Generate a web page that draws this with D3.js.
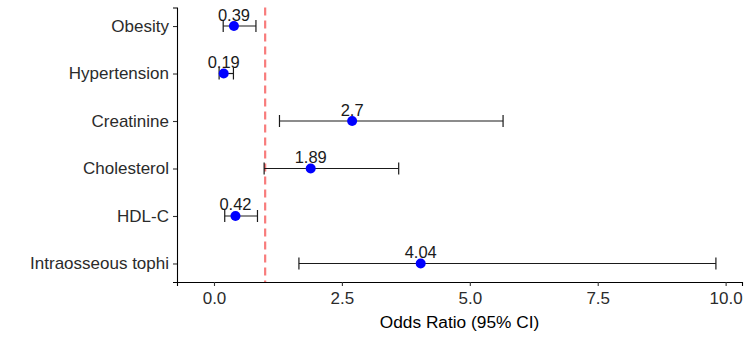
<!DOCTYPE html>
<html>
<head>
<meta charset="utf-8">
<script src="https://cdn.jsdelivr.net/npm/d3@7"></script>
<style>
  html, body { margin: 0; padding: 0; background: #fff; }
  svg { display: block; font-family: "Liberation Sans", Arial, sans-serif; }
</style>
</head>
<body>
<svg id="chart" width="750" height="337"></svg>
<script>
const categories = ["Obesity", "Hypertension", "Creatinine", "Cholesterol", "HDL-C", "Intraosseous tophi"];
const oddsRatio = [0.39, 0.19, 2.7, 1.89, 0.42, 4.04];
const lowerCI = [0.18, 0.10, 1.28, 0.98, 0.21, 1.66];
const upperCI = [0.82, 0.38, 5.65, 3.61, 0.85, 9.81];
const oddsLabels = ["0.39", "0.19", "2.7", "1.89", "0.42", "4.04"];
const xTicks = [0, 2.5, 5, 7.5, 10];
const xTickLabels = ["0.0", "2.5", "5.0", "7.5", "10.0"];
const referenceValue = [1];
const xTitle = "Odds Ratio (95% CI)";

(function () {
const rows = categories.map((c, i) => ({
  cat: c, or: oddsRatio[i], lo: lowerCI[i], hi: upperCI[i], label: oddsLabels[i]
}));

const svg = d3.select("#chart");
const mLeft = 177, mRight = 742, mTop = 7.5, mBottom = 282;

const x = d3.scaleLinear().domain([-0.723, 10.32]).range([mLeft, mRight]);
const y = d3.scalePoint().domain(categories).range([mTop, mBottom]).padding(0.39);

const textColor = "#2b2b2b";

// x axis
const xAxis = svg.append("g")
  .attr("transform", `translate(0,${mBottom})`)
  .call(d3.axisBottom(x).tickValues(xTicks).tickFormat((d, i) => xTickLabels[i]).tickSizeOuter(0).tickSize(4).tickPadding(6));
xAxis.select(".domain").attr("stroke", "#000").attr("stroke-width", 1.1);
xAxis.selectAll(".tick line").attr("stroke", "#333").attr("stroke-width", 1.1);
xAxis.selectAll(".tick text").attr("font-size", 17).attr("fill", textColor).attr("font-family", "Liberation Sans, Arial, sans-serif");

// y axis
const yAxis = svg.append("g")
  .attr("transform", `translate(${mLeft},0)`)
  .call(d3.axisLeft(y).tickSizeOuter(0).tickSize(4).tickPadding(4));
yAxis.select(".domain").attr("stroke", "#000").attr("stroke-width", 1.1);
yAxis.selectAll(".tick line").attr("stroke", "#333").attr("stroke-width", 1.1);
yAxis.selectAll(".tick text").attr("font-size", 17).attr("fill", textColor).attr("font-family", "Liberation Sans, Arial, sans-serif");

// reference line
svg.selectAll(".refline").data(referenceValue).enter().append("line")
  .attr("class", "refline")
  .attr("x1", d => x(d)).attr("x2", d => x(d))
  .attr("y1", mTop).attr("y2", mBottom)
  .attr("stroke", "#f87c7c").attr("stroke-width", 2.2)
  .attr("stroke-dasharray", "8,5");

// error bars
const cap = 6;
const eb = svg.append("g").selectAll("g").data(rows).enter().append("g");
eb.append("line")
  .attr("x1", d => x(d.lo)).attr("x2", d => x(d.hi))
  .attr("y1", d => y(d.cat)).attr("y2", d => y(d.cat))
  .attr("stroke", "#1a1a1a").attr("stroke-width", 1.2);
eb.append("line")
  .attr("x1", d => x(d.lo)).attr("x2", d => x(d.lo))
  .attr("y1", d => y(d.cat) - cap).attr("y2", d => y(d.cat) + cap)
  .attr("stroke", "#1a1a1a").attr("stroke-width", 1.2);
eb.append("line")
  .attr("x1", d => x(d.hi)).attr("x2", d => x(d.hi))
  .attr("y1", d => y(d.cat) - cap).attr("y2", d => y(d.cat) + cap)
  .attr("stroke", "#1a1a1a").attr("stroke-width", 1.2);

// points
svg.append("g").selectAll("circle").data(rows).enter().append("circle")
  .attr("cx", d => x(d.or)).attr("cy", d => y(d.cat)).attr("r", 5)
  .attr("fill", "#0000ff");

// labels
svg.append("g").selectAll("text").data(rows).enter().append("text")
  .attr("x", d => x(d.or)).attr("y", d => y(d.cat) - 5.5)
  .attr("text-anchor", "middle")
  .attr("font-size", 16.5).attr("fill", "#1a1a1a")
  .text(d => d.label);

// x title
svg.append("text")
  .attr("x", (mLeft + mRight) / 2).attr("y", 328)
  .attr("text-anchor", "middle")
  .attr("font-size", 17.3).attr("fill", "#000")
  .text(xTitle);
})();
</script>
</body>
</html>
